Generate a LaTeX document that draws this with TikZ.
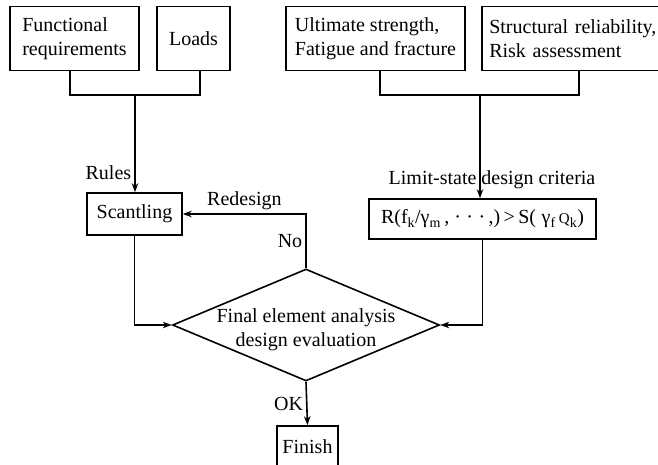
\documentclass[tikz,border=0pt]{standalone}
\usepackage{fontspec}
\setmainfont{Liberation Serif}
\usepackage{tikz}
\usetikzlibrary{arrows.meta, shapes.geometric, positioning}

\begin{document}
\begin{tikzpicture}[>={Stealth[length=9pt, width=6.5pt]}, x=1pt, y=-1pt, line width=1.6pt,
    every node/.style={font=\fontsize{20}{24}\selectfont, inner sep=3pt},
    block/.style={draw, rectangle, inner sep=0pt, align=left, minimum height=64pt},
    decision/.style={draw, diamond, inner sep=0pt, minimum width=267pt, minimum height=112pt}]

    \useasboundingbox (0,0) rectangle (658,465);

    %define the input boxes
    \node[block, minimum width=129pt] (func) at (74.5,38.5) {Functional\\requirements};
    \node[block, minimum width=73pt] (loads) at (193.5,38.5) {Loads};
    \node[block, minimum width=179pt] (ult) at (375.5,38.5) {Ultimate strength,\\Fatigue and fracture};
    \node[block, anchor=west, minimum width=190pt, text width=175pt] (struct) at (481,38.5) {Structural reliability,\\Risk assessment};

    %define the design steps
    \node[block, minimum width=95pt, minimum height=42pt] (scant) at (134.5,214) {Scantling};
    \node[block, minimum width=227pt, minimum height=40pt, align=center] (crit) at (482.5,219)
        {R(f\textsubscript{k}/γ\textsubscript{m}\,, ·\;·\;·\,,)\,>\,S(\;γ\textsubscript{f}\,{\fontsize{15}{15}\selectfont Q}\textsubscript{k})};
    \node (lim) at (492,180) {Limit-state design criteria};
    \node[decision, label={[align=center, yshift=-5pt]center:Final element analysis\\design evaluation}] (eval) at (306,325) {};
    \node[block, minimum width=61pt, minimum height=42pt] (finish) at (307.5,447) {Finish};

    %define the joins
    \coordinate (jl) at (135,95);
    \coordinate (jr) at (480,95);

    %define the links
    \draw ([xshift=-4.5pt]func.south) |- (jl) -| ([xshift=6.5pt]loads.south);
    \draw[->] (jl) -- node[pos=0.8, left] {Rules} (jl |- scant.north);
    \draw ([xshift=4.5pt]ult.south) |- (jr) -| ([xshift=98pt]struct.south west);
    \draw[->] (jr) -- (jr |- crit.north);
    \draw[->] (scant.south) |- (eval.west);
    \draw[->] (crit.south) |- (eval.east);
    \draw[->] (eval.north) |- node[pos=0.25, left] {No} node[pos=0.75, above] {Redesign} (scant.east);
    \draw[->] (eval.south) -- node[left] {OK} (finish.north);
\end{tikzpicture}
\end{document}
